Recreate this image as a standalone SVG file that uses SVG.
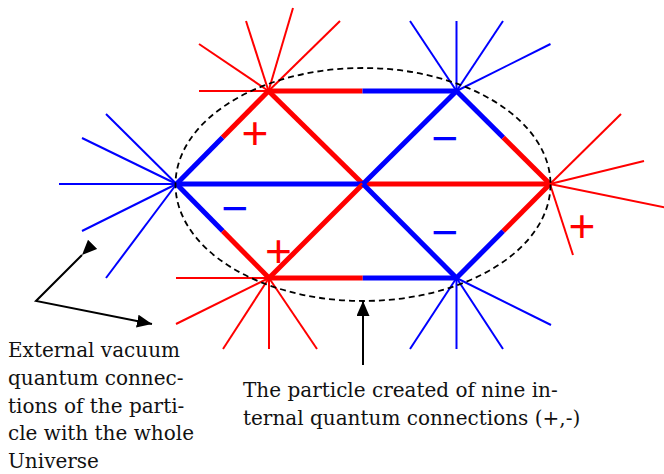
<svg xmlns="http://www.w3.org/2000/svg" width="664" height="474" viewBox="0 0 664 474">
<defs>
<style>
.ray{stroke-width:2;fill:none}
.r{stroke:#ff0000}
.b{stroke:#0000ff}
.edge{stroke-width:5;fill:none;stroke-linecap:butt}
.sign{font-family:"Liberation Sans",Arial,sans-serif;font-size:46px;text-anchor:middle}
.txt{font-family:"DejaVu Serif",serif;font-size:20px;fill:#111}
.arr{stroke:#000;stroke-width:2;fill:none}
</style>
<marker id="ah" markerUnits="userSpaceOnUse" markerWidth="16" markerHeight="14" refX="15" refY="6.5" orient="auto">
<path d="M0,0 L15,6.5 L0,13 z" fill="#000"/>
</marker>
</defs>
<rect width="664" height="474" fill="#fff"/>

<g id="node-TL" class="ray r">
<line x1="268.5" y1="91" x2="199" y2="91"/>
<line x1="268.5" y1="91" x2="199" y2="44"/>
<line x1="268.5" y1="91" x2="246" y2="21"/>
<line x1="268.5" y1="91" x2="293" y2="8"/>
<line x1="268.5" y1="91" x2="340" y2="21"/>
</g>
<g id="node-TR" class="ray b">
<line x1="456.5" y1="91" x2="410" y2="21"/>
<line x1="456.5" y1="91" x2="456.5" y2="21"/>
<line x1="456.5" y1="91" x2="503" y2="21"/>
<line x1="456.5" y1="91" x2="550.5" y2="44"/>
</g>
<g id="node-L" class="ray b">
<line x1="176.5" y1="184" x2="106" y2="114"/>
<line x1="176.5" y1="184" x2="82" y2="138"/>
<line x1="176.5" y1="184" x2="59" y2="184"/>
<line x1="176.5" y1="184" x2="82" y2="231"/>
<line x1="176.5" y1="184" x2="106" y2="278"/>
</g>
<g id="node-R" class="ray r">
<line x1="550" y1="184" x2="621" y2="114"/>
<line x1="550" y1="184" x2="644" y2="161"/>
<line x1="550" y1="184" x2="668" y2="208"/>
<line x1="550" y1="184" x2="573" y2="255"/>
</g>
<g id="node-BL" class="ray r">
<line x1="269" y1="278" x2="176" y2="278"/>
<line x1="269" y1="278" x2="176" y2="324"/>
<line x1="269" y1="278" x2="223" y2="349"/>
<line x1="269" y1="278" x2="269" y2="349"/>
<line x1="269" y1="278" x2="317" y2="349"/>
</g>
<g id="node-BR" class="ray b">
<line x1="456.5" y1="278" x2="410" y2="349"/>
<line x1="456.5" y1="278" x2="456.5" y2="349"/>
<line x1="456.5" y1="278" x2="503" y2="349"/>
<line x1="456.5" y1="278" x2="551" y2="325"/>
</g>

<g id="connectors" class="edge">
<line class="r" x1="268.5" y1="91" x2="362.5" y2="91"/>
<line class="b" x1="362.5" y1="91" x2="456.5" y2="91"/>
<line class="r" x1="268.5" y1="91" x2="222.5" y2="137.5"/>
<line class="b" x1="222.5" y1="137.5" x2="176.5" y2="184"/>
<line class="r" x1="268.5" y1="91" x2="363" y2="184"/>
<line class="b" x1="176.5" y1="184" x2="363" y2="184"/>
<line class="r" x1="363" y1="184" x2="550" y2="184"/>
<line class="b" x1="456.5" y1="91" x2="503.25" y2="137.5"/>
<line class="r" x1="503.25" y1="137.5" x2="550" y2="184"/>
<line class="b" x1="176.5" y1="184" x2="222.75" y2="231"/>
<line class="r" x1="222.75" y1="231" x2="269" y2="278"/>
<line class="r" x1="269" y1="278" x2="363" y2="184"/>
<line class="b" x1="363" y1="184" x2="456.5" y2="278"/>
<line class="b" x1="456.5" y1="91" x2="363" y2="184"/>
<line class="b" x1="456.5" y1="278" x2="503.25" y2="231"/>
<line class="r" x1="503.25" y1="231" x2="550" y2="184"/>
<line class="r" x1="269" y1="278" x2="362.75" y2="278"/>
<line class="b" x1="362.75" y1="278" x2="456.5" y2="278"/>
</g>

<ellipse id="boundary" cx="363" cy="184.5" rx="187.5" ry="116.5" fill="none" stroke="#000" stroke-width="1.8" stroke-dasharray="6,4"/>

<g id="signs">
<text class="sign" x="255" y="149" fill="#ff0000">+</text>
<text class="sign" x="445" y="153.5" fill="#0000ff">−</text>
<text class="sign" x="235" y="224" fill="#0000ff">−</text>
<text class="sign" x="278.5" y="266.5" fill="#ff0000">+</text>
<text class="sign" x="445" y="247.5" fill="#0000ff">−</text>
<text class="sign" x="582" y="242" fill="#ff0000">+</text>
</g>

<g id="arrows">
<polyline class="arr" points="82,255 36,301 152,324" marker-start="url(#ah)" marker-end="url(#ah)"/>
<line class="arr" x1="363" y1="365" x2="363" y2="301" marker-end="url(#ah)"/>
</g>

<g id="labels" class="txt">
<text x="8" y="357">External vacuum</text>
<text x="8" y="385">quantum connec-</text>
<text x="8" y="413">tions of the parti-</text>
<text x="8" y="440">cle with the whole</text>
<text x="8" y="468">Universe</text>
<text x="243" y="397">The particle created of nine in-</text>
<text x="243" y="425">ternal quantum connections (+,-)</text>
</g>
</svg>
